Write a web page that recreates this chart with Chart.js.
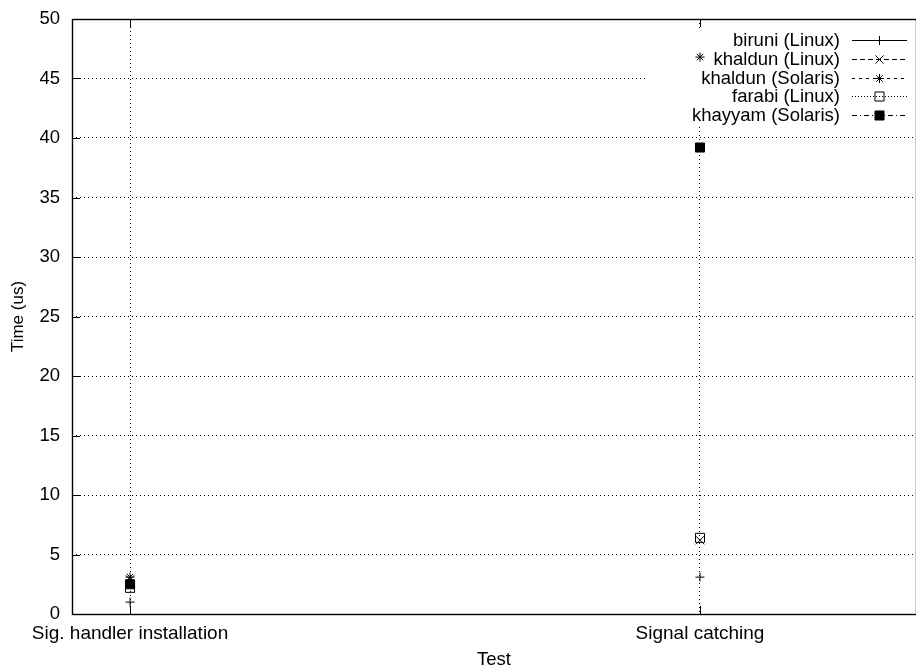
<!DOCTYPE html>
<html><head><meta charset="utf-8">
<script src="https://cdn.jsdelivr.net/npm/chart.js@4"></script>
<style>html,body{margin:0;padding:0;background:#fff}</style>
</head><body>
<canvas id="c" width="916" height="669"></canvas>
<script>
// ---- data ----
const categories = ['Sig. handler installation', 'Signal catching'];
const seriesNames = ['biruni (Linux)', 'khaldun (Linux)', 'khaldun (Solaris)', 'farabi (Linux)', 'khayyam (Solaris)'];
const biruniLinux = [1.0, 3.1];
const khaldunLinux = [2.9, 6.2];
const khaldunSolaris = [3.1, 46.8];
const farabiLinux = [2.2, 6.4];
const khayyamSolaris = [2.5, 39.2];
const yTicks = [0, 5, 10, 15, 20, 25, 30, 35, 40, 45, 50];
const xTitle = 'Test';
const yTitle = 'Time (us)';

// ---- styles ----
const FONT = '"Liberation Sans", Arial, Helvetica, sans-serif';
const styles = [
  {pointStyle: 'cross', radius: 4.5, fill: 'rgba(0,0,0,0)', dash: []},
  {pointStyle: 'crossRot', radius: 5.8, fill: 'rgba(0,0,0,0)', dash: [5, 3]},
  {pointStyle: 'star', radius: 4.6, fill: 'rgba(0,0,0,0)', dash: [3, 4]},
  {pointStyle: 'rect', radius: 6.4, fill: 'rgba(0,0,0,0)', dash: [1, 2]},
  {pointStyle: 'rect', radius: 6.4, fill: '#000', dash: [5, 3, 1, 3]}
];
const seriesValues = [biruniLinux, khaldunLinux, khaldunSolaris, farabiLinux, khayyamSolaris];

const datasets = seriesValues.map((vals, s) => ({
  label: seriesNames[s],
  data: vals.map((v, i) => (v == null ? null : {x: i, y: v})).filter(p => p),
  showLine: false,
  pointStyle: styles[s].pointStyle,
  pointRadius: styles[s].radius,
  pointHoverRadius: styles[s].radius,
  pointBorderColor: '#000',
  pointBackgroundColor: styles[s].fill,
  pointBorderWidth: 1,
  borderColor: '#000',
  order: seriesValues.length - s
}));

const decor = {
  id: 'decor',
  beforeDatasetsDraw(chart) {
    const ctx = chart.ctx, a = chart.chartArea;
    const xs = chart.scales.x, ys = chart.scales.y;
    ctx.save();
    // key area (blanks grid)
    ctx.fillStyle = '#fff';
    ctx.fillRect(648, 28, 268, 96);
    // frame
    ctx.strokeStyle = '#000';
    ctx.lineWidth = 1.4;
    ctx.setLineDash([]);
    ctx.strokeRect(a.left + 0.5, a.top + 0.5, a.right - a.left, a.bottom - a.top);
    // ticks
    ctx.lineWidth = 1;
    ctx.beginPath();
    yTicks.forEach(t => {
      const y = Math.round(ys.getPixelForValue(t)) + 0.5;
      ctx.moveTo(a.left, y); ctx.lineTo(a.left + 8, y);
    });
    categories.forEach((c, i) => {
      const x = Math.round(xs.getPixelForValue(i)) + 0.5;
      ctx.moveTo(x, a.bottom); ctx.lineTo(x, a.bottom - 8);
      ctx.moveTo(x, a.top); ctx.lineTo(x, a.top + 8);
    });
    ctx.stroke();
    // legend
    ctx.font = '18.5px ' + FONT;
    ctx.textAlign = 'right';
    ctx.textBaseline = 'middle';
    ctx.fillStyle = '#000';
    const rowY = [40, 59, 77.5, 96, 115];
    chart.data.datasets.forEach((ds, s) => {
      const y = rowY[s];
      ctx.fillText(ds.label, 840, y + 1);
      ctx.save();
      ctx.setLineDash(styles[s].dash);
      ctx.lineWidth = 1;
      ctx.beginPath();
      ctx.moveTo(852, Math.round(y) + 0.5); ctx.lineTo(907, Math.round(y) + 0.5);
      ctx.stroke();
      ctx.restore();
      ctx.save();
      ctx.setLineDash([]);
      ctx.strokeStyle = '#000';
      ctx.fillStyle = styles[s].fill;
      ctx.lineWidth = 1;
      Chart.helpers.drawPoint(ctx, {pointStyle: styles[s].pointStyle, radius: styles[s].radius, rotation: 0, borderWidth: 1}, 879.5, Math.round(y) + 0.5);
      ctx.restore();
    });
    ctx.restore();
  }
};

new Chart(document.getElementById('c'), {
  type: 'scatter',
  data: {datasets},
  options: {
    responsive: false,
    animation: false,
    events: [],
    layout: {autoPadding: false, padding: {top: 19, right: 0, left: 0, bottom: 0}},
    plugins: {legend: {display: false}, tooltip: {enabled: false}},
    scales: {
      x: {
        type: 'linear',
        min: -0.1018,
        max: 1.379,
        afterBuildTicks: s => { s.ticks = categories.map((c, i) => ({value: i})); },
        afterFit: s => { s.height = 55; s.paddingLeft = 0; s.paddingRight = 0; s.paddingTop = 0; s.paddingBottom = 0; },
        ticks: {
          callback: v => categories[v],
          color: '#000',
          font: {family: FONT, size: 19},
          padding: 8,
          maxRotation: 0,
          autoSkip: false
        },
        grid: {color: '#000', lineWidth: 1, drawTicks: false},
        border: {display: false, dash: [1, 3]},
        title: {display: true, text: xTitle, color: '#000', font: {family: FONT, size: 18.5, lineHeight: 1.0}, padding: {top: 0, bottom: 0}}
      },
      y: {
        min: 0,
        max: 50,
        afterBuildTicks: s => { s.ticks = yTicks.map(v => ({value: v})); },
        afterFit: s => { s.width = 72; s.paddingLeft = 0; s.paddingRight = 0; s.paddingTop = 0; s.paddingBottom = 0; },
        ticks: {
          color: '#000',
          font: {family: FONT, size: 18.5},
          padding: 12
        },
        grid: {color: '#000', lineWidth: 1, drawTicks: false},
        border: {display: false, dash: [1, 3]},
        title: {display: true, text: yTitle, color: '#000', font: {family: FONT, size: 17}, padding: {top: 8, bottom: 0}}
      }
    }
  },
  plugins: [decor]
});
</script>
</body></html>
